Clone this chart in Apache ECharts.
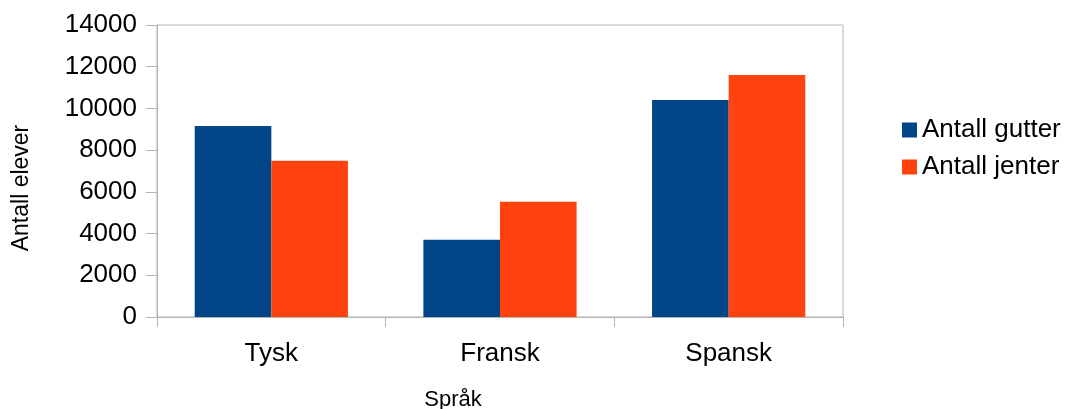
<!DOCTYPE html>
<html>
<head>
<meta charset="utf-8">
<script src="https://cdn.jsdelivr.net/npm/echarts@6/dist/echarts.min.js"></script>
<style>
  html, body { margin: 0; padding: 0; background: #fff; }
  #chart { width: 1067px; height: 409px; }
</style>
</head>
<body>
<div id="chart"></div>
<script>
// Elever per fremmedspråk, fordelt på gutter og jenter
const categories = ['Tysk', 'Fransk', 'Spansk'];
const seriesNames = ['Antall gutter', 'Antall jenter'];
const gutter = [9160, 3700, 10400];
const jenter = [7490, 5520, 11600];
const yTicks = { min: 0, max: 14000, interval: 2000 };

const FONT = '"Liberation Sans", Arial, sans-serif';
const LINE = '#b3b3b3';

const chart = echarts.init(document.getElementById('chart'), null, { renderer: 'canvas' });
chart.setOption({
  animation: false,
  backgroundColor: '#ffffff',
  textStyle: { fontFamily: FONT, color: '#000' },
  grid: {
    left: 157, right: 224, top: 25, bottom: 92,
    outerBoundsMode: 'none',
    containLabel: false,
    show: true, borderColor: LINE, borderWidth: 1, backgroundColor: 'transparent'
  },
  legend: {
    orient: 'vertical',
    left: 897, top: 112,
    icon: 'rect',
    itemWidth: 15, itemHeight: 15,
    itemGap: 11, itemTextGap: 8,
    textStyle: { fontFamily: FONT, fontSize: 26, color: '#000' },
    data: seriesNames
  },
  xAxis: {
    type: 'category',
    data: categories,
    name: 'Språk',
    nameLocation: 'middle',
    nameGap: 72,
    nameTextStyle: { fontFamily: FONT, fontSize: 22, color: '#000', padding: [0, 94, 0, 0] },
    axisLine: { lineStyle: { color: LINE, width: 1 } },
    axisTick: { show: true, length: 10, lineStyle: { color: LINE } },
    axisLabel: { fontFamily: FONT, fontSize: 26, color: '#000', margin: 24 },
    splitLine: { show: false }
  },
  yAxis: {
    type: 'value',
    min: yTicks.min, max: yTicks.max, interval: yTicks.interval,
    name: 'Antall elever',
    nameLocation: 'middle',
    nameGap: 124,
    nameRotate: 90,
    nameTextStyle: { fontFamily: FONT, fontSize: 23, color: '#000', padding: [0, 34, 0, 0] },
    axisLine: { show: true, lineStyle: { color: LINE, width: 1 } },
    axisTick: { show: true, length: 11, lineStyle: { color: LINE } },
    axisLabel: {
      fontFamily: FONT, fontSize: 26, color: '#000', margin: 20,
      formatter: (v) => String(v)
    },
    splitLine: { show: false }
  },
  series: [
    {
      name: seriesNames[0], type: 'bar', data: gutter,
      itemStyle: { color: '#004586' },
      barGap: '0%', barCategoryGap: '33%'
    },
    {
      name: seriesNames[1], type: 'bar', data: jenter,
      itemStyle: { color: '#ff420e' },
      barGap: '0%', barCategoryGap: '33%'
    }
  ]
});
</script>
</body>
</html>
